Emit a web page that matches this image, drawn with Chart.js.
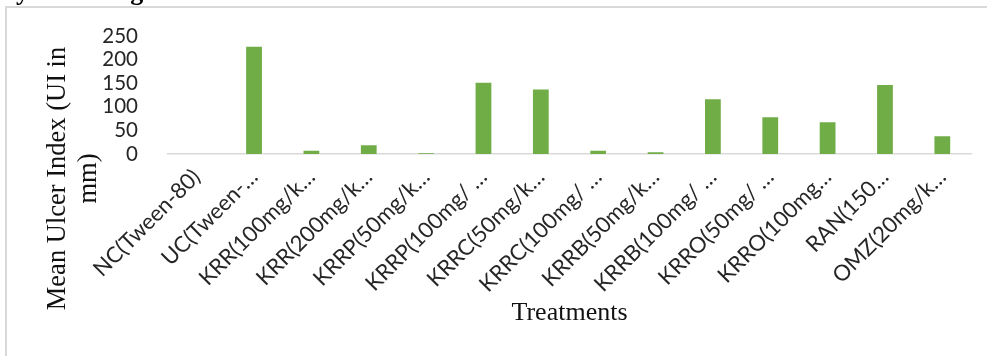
<!DOCTYPE html>
<html>
<head>
<meta charset="utf-8">
<script src="https://cdn.jsdelivr.net/npm/chart.js@4/dist/chart.umd.min.js"></script>
<style>
  html, body { margin: 0; padding: 0; background: #fff; }
  canvas { display: block; }
</style>
</head>
<body>
<canvas id="chart" width="987" height="356"></canvas>
<script>
// Treatment groups (labels as they appear, shortened on the axis)
const treatments = [
  'NC(Tween-80)', 'UC(Tween-…', 'KRR(100mg/k…', 'KRR(200mg/k…',
  'KRRP(50mg/k…', 'KRRP(100mg/ …', 'KRRC(50mg/k…', 'KRRC(100mg/ …',
  'KRRB(50mg/k…', 'KRRB(100mg/ …', 'KRRO(50mg/ …', 'KRRO(100mg…',
  'RAN(150…', 'OMZ(20mg/k…'
];
// Mean ulcer index for each group
const ulcerIndex = [0, 229.5, 9, 20.5, 3.5, 153, 139, 9, 5.7, 118, 80, 69.3, 148.3, 39.6];
// Value axis ticks
const yTicks = [0, 50, 100, 150, 200, 250];
const yTitleLines = ['Mean Ulcer Index (UI in', 'mm)'];
const xTitle = 'Treatments';
const captionText = 'y induced gastric ulcers in rats';

const decor = {
  id: 'decor',
  beforeDraw(chart) {
    const ctx = chart.ctx;
    ctx.save();
    // frame of the chart box
    ctx.fillStyle = '#d9d9d9';
    ctx.fillRect(5, 6, chart.width - 5, 2);
    ctx.fillRect(5, 6, 2, chart.height - 6);
    // caption line above the box
    ctx.fillStyle = '#000';
    ctx.font = 'bold 26px "Liberation Serif"';
    ctx.textBaseline = 'alphabetic';
    ctx.textAlign = 'left';
    ctx.fillText(captionText, 16, -0.5);
    ctx.restore();
  },
  afterDraw(chart) {
    const ctx = chart.ctx;
    ctx.save();
    ctx.fillStyle = '#111';
    ctx.font = '26.5px "Liberation Serif"';
    ctx.textAlign = 'center';
    ctx.textBaseline = 'alphabetic';
    const baselines = [64.5, 95.5];
    yTitleLines.forEach((line, i) => {
      ctx.save();
      ctx.translate(baselines[i], 178.5);
      ctx.rotate(-Math.PI / 2);
      ctx.fillText(line, 0, 0);
      ctx.restore();
    });
    ctx.restore();
  }
};

new Chart(document.getElementById('chart'), {
  type: 'bar',
  data: {
    labels: treatments,
    datasets: [{
      data: ulcerIndex,
      backgroundColor: '#70ad47',
      borderColor: 'rgba(255,255,255,0.5)',
      borderWidth: 1,
      categoryPercentage: 1,
      barPercentage: 0.31
    }]
  },
  options: {
    responsive: false,
    animation: false,
    devicePixelRatio: 1,
    layout: { padding: { left: 100, right: 16, top: 36, bottom: 27 } },
    plugins: {
      legend: { display: false },
      tooltip: { enabled: false }
    },
    scales: {
      x: {
        grid: { display: false },
        border: { display: true, color: '#d9d9d9', width: 1.5 },
        ticks: {
          autoSkip: false,
          minRotation: 45,
          maxRotation: 45,
          padding: 2,
          color: '#262626',
          font: { family: 'Lato', size: 22 }
        },
        title: {
          display: true,
          text: xTitle,
          color: '#111',
          font: { family: 'Liberation Serif', size: 26 },
          padding: 0
        },
        afterFit(scale) { scale.height = 356 - 27 - 154; }
      },
      y: {
        min: 0,
        max: 250,
        grid: { display: false },
        border: { display: false },
        afterBuildTicks(scale) { scale.ticks = yTicks.map(v => ({ value: v })); },
        ticks: {
          autoSkip: false,
          padding: 22,
          color: '#262626',
          font: { family: 'Lato', size: 20.5 }
        },
        afterFit(scale) { scale.width = 68; }
      }
    }
  },
  plugins: [decor]
});
</script>
</body>
</html>
